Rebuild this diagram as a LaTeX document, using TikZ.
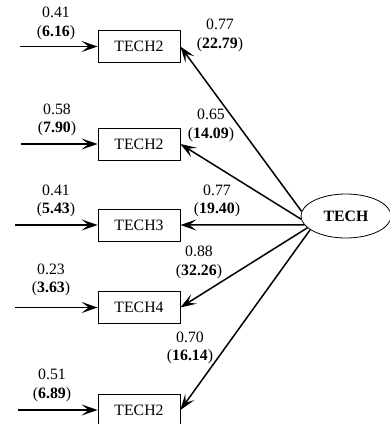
\documentclass[tikz,border=0pt]{standalone}
\usepackage{fontspec}
\setmainfont{Liberation Serif}
\usetikzlibrary{arrows.meta,shapes.geometric}

\begin{document}
\begin{tikzpicture}[x=1pt,y=-1pt,font=\fontsize{15.8}{18.5}\selectfont,
    >={Stealth[length=16pt,width=11pt,inset=7pt]}]
    \useasboundingbox (0,0) rectangle (390,424);
    % indicators
    \begin{scope}[every node/.style={draw,line width=0.8pt,minimum width=82pt,minimum height=32pt,inner sep=0pt}]
      \node (t1) at (139,46.5) {TECH2};
      \node (t2) at (139,144) {TECH2};
      \node (t3) at (139,225) {TECH3};
      \node (t4) at (139,307.5) {TECH4};
      \node (t5) at (139,410) {TECH2};
    \end{scope}
    \node[draw,ellipse,line width=0.8pt,minimum width=90pt,minimum height=44pt] (tech) at (346,216) {\textbf{TECH}};
    % error terms
    \coordinate (e1) at (20,46.5);
    \coordinate (e2) at (21,144);
    \coordinate (e3) at (15,225);
    \coordinate (e4) at (15,307.5);
    \coordinate (e5) at (18,410);
    \begin{scope}[every node/.style={align=center,inner sep=0pt}]
      \node (l1) at (56,23.5) {0.41\\(\textbf{6.16})};
      \node (l2) at (57,120) {0.58\\(\textbf{7.90})};
      \node (l3) at (56,201) {0.41\\(\textbf{5.43})};
      \node (l4) at (51,280) {0.23\\(\textbf{3.63})};
      \node (l5) at (52,385.5) {0.51\\(\textbf{6.89})};
      \node (k1) at (220,35.5) {0.77\\(\textbf{22.79})};
      \node (k2) at (211,125.5) {0.65\\(\textbf{14.09})};
      \node (k3) at (217,201) {0.77\\(\textbf{19.40})};
      \node (k4) at (199,262.5) {0.88\\(\textbf{32.26})};
      \node (k5) at (190,348) {0.70\\(\textbf{16.14})};
    \end{scope}
    \begin{scope}[every edge/.style={draw=black,line width=1.8pt,->}]
      \path (e1) edge (t1);
      \path (e2) edge (t2);
      \path (e3) edge (t3);
      \path (e4) edge (t4);
      \path (e5) edge (t5);
    \end{scope}
    \begin{scope}[every edge/.style={draw=black,line width=1.5pt,->}]
      \path (tech.174) edge (t1.east);
      \path (tech.184) edge (t2.east);
      \path (tech.192) edge (t3.east);
      \path (tech.197) edge (t4.east);
      \path (tech.201) edge (t5.east);
    \end{scope}
  \end{tikzpicture}
\end{document}
